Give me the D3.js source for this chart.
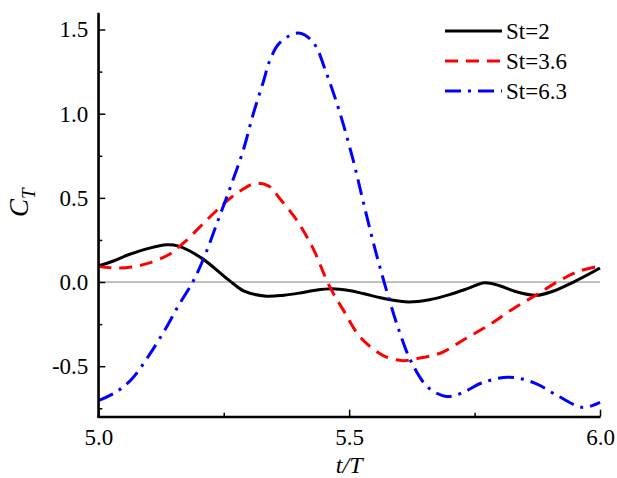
<!DOCTYPE html>
<html>
<head>
<meta charset="utf-8">
<script src="https://cdn.jsdelivr.net/npm/d3@7/dist/d3.min.js"></script>
</head>
<body style="margin:0">
<svg id="chart" width="617" height="478"></svg>
<script>
// ---- Data ----
const seriesNames = ["St=2", "St=3.6", "St=6.3"];

const tSt2 = [5.0, 5.03, 5.06, 5.1, 5.136, 5.16, 5.206, 5.259, 5.292, 5.335, 5.37, 5.40, 5.43, 5.465, 5.50, 5.53, 5.575, 5.618, 5.66, 5.70, 5.74, 5.77, 5.80, 5.83, 5.873, 5.905, 5.95, 6.0];
const vSt2 = [0.095, 0.125, 0.162, 0.2, 0.221, 0.213, 0.142, 0.014, -0.056, -0.084, -0.078, -0.066, -0.05, -0.04, -0.05, -0.07, -0.101, -0.118, -0.105, -0.075, -0.035, -0.004, -0.022, -0.055, -0.079, -0.056, 0.004, 0.083];

const tSt36 = [5.0, 5.033, 5.066, 5.1, 5.14, 5.173, 5.213, 5.259, 5.286, 5.313, 5.34, 5.362, 5.395, 5.428, 5.46, 5.489, 5.523, 5.57, 5.609, 5.635, 5.684, 5.73, 5.778, 5.824, 5.872, 5.917, 5.957, 6.0];
const vSt36 = [0.093, 0.083, 0.089, 0.112, 0.162, 0.24, 0.359, 0.488, 0.547, 0.586, 0.57, 0.495, 0.37, 0.2, -0.02, -0.17, -0.33, -0.44, -0.467, -0.455, -0.42, -0.34, -0.257, -0.164, -0.078, 0.004, 0.063, 0.095];

const tSt63 = [5.0, 5.033, 5.066, 5.1, 5.133, 5.159, 5.189, 5.213, 5.239, 5.266, 5.289, 5.309, 5.329, 5.342, 5.362, 5.399, 5.428, 5.455, 5.482, 5.508, 5.528, 5.552, 5.577, 5.601, 5.624, 5.657, 5.694, 5.724, 5.764, 5.818, 5.870, 5.917, 5.966, 6.0];
const vSt63 = [-0.705, -0.658, -0.579, -0.44, -0.283, -0.144, 0.004, 0.162, 0.369, 0.586, 0.784, 1.0, 1.19, 1.317, 1.422, 1.479, 1.425, 1.238, 1.0, 0.724, 0.478, 0.191, -0.075, -0.302, -0.475, -0.625, -0.68, -0.66, -0.6, -0.565, -0.6, -0.678, -0.745, -0.715];

const xMajorTicks = [5.0, 5.5, 6.0];
const xMinorTicks = [5.25, 5.75];
const yMajorTicks = [-0.5, 0.0, 0.5, 1.0, 1.5];
const yMinorTicks = [-0.75, -0.25, 0.25, 0.75, 1.25];

// ---- Layout ----
const svg = d3.select("#chart");
const pL = 98.3, pR = 600, pT = 12.7, pB = 416.7;
const x = d3.scaleLinear().domain([5, 6]).range([pL, pR]);
const y = d3.scaleLinear().domain([-0.8, 1.6]).range([pB, pT]);

function serif(sel, size, italic) {
  sel.attr("font-family", "Liberation Serif")
     .style("font-family", '"Liberation Serif", Tinos, "Times New Roman"', "important")
     .attr("font-size", size)
     .attr("fill", "#000");
  if (italic) sel.style("font-style", "italic", "important");
  return sel;
}

const styles = [
  { color: "#000000", dash: null },
  { color: "#ff0000", dash: "13,8" },
  { color: "#0000ff", dash: "16,7,3,7" }
];
const series = [
  tSt2.map((t, i) => [t, vSt2[i]]),
  tSt36.map((t, i) => [t, vSt36[i]]),
  tSt63.map((t, i) => [t, vSt63[i]])
];

// zero line
svg.append("line")
  .attr("x1", x(5)).attr("x2", x(6))
  .attr("y1", y(0)).attr("y2", y(0))
  .attr("stroke", "#808080").attr("stroke-width", 1);

// curves
const line = d3.line().x(d => x(d[0])).y(d => y(d[1])).curve(d3.curveCatmullRom.alpha(0.5));
series.forEach((s, i) => {
  svg.append("path")
    .datum(s)
    .attr("d", line)
    .attr("fill", "none")
    .attr("stroke", styles[i].color)
    .attr("stroke-width", 3)
    .attr("stroke-dasharray", styles[i].dash);
});

// axes
const fmt = d => d.toFixed(1);
const yAxis = svg.append("g").attr("transform", `translate(${pL},0)`)
  .call(d3.axisLeft(y).tickValues(yMajorTicks).tickSizeInner(-7).tickSizeOuter(0).tickPadding(10).tickFormat(fmt));
const yMinor = svg.append("g").attr("transform", `translate(${pL},0)`)
  .call(d3.axisLeft(y).tickValues(yMinorTicks).tickSizeInner(-4).tickSizeOuter(0).tickFormat(""));
const xAxis = svg.append("g").attr("transform", `translate(0,${pB})`)
  .call(d3.axisBottom(x).tickValues(xMajorTicks).tickSizeInner(-7).tickSizeOuter(0).tickPadding(12).tickFormat(fmt));
const xMinor = svg.append("g").attr("transform", `translate(0,${pB})`)
  .call(d3.axisBottom(x).tickValues(xMinorTicks).tickSizeInner(-4).tickSizeOuter(0).tickFormat(""));

[yAxis, yMinor, xAxis, xMinor].forEach(g => {
  g.attr("font-family", "Liberation Serif").attr("font-size", 23);
  g.selectAll(".domain").attr("stroke", "#000").attr("stroke-width", 2);
  g.selectAll(".tick line").attr("stroke", "#000").attr("stroke-width", 1.5);
  serif(g.selectAll("text"), 23, false);
});
yAxis.select(".domain").attr("d", `M0,${pT}V${pB + 1}`);
xAxis.select(".domain").attr("d", `M${pL - 1},0H${pR}`);

// axis titles
serif(svg.append("text"), 24, true)
  .attr("x", (pL + pR) / 2).attr("y", 473)
  .attr("text-anchor", "middle")
  .text("t/T");

const yt = serif(svg.append("text"), 27, true)
  .attr("transform", "translate(28,217) rotate(-90)")
  .attr("text-anchor", "start");
yt.append("tspan").text("C");
yt.append("tspan").attr("font-size", 19).attr("dy", 7).text("T");

// legend
const legY = [31, 61, 91];
seriesNames.forEach((name, i) => {
  svg.append("line")
    .attr("x1", 445).attr("x2", 502)
    .attr("y1", legY[i]).attr("y2", legY[i])
    .attr("stroke", styles[i].color).attr("stroke-width", 3)
    .attr("stroke-dasharray", styles[i].dash);
  serif(svg.append("text"), 23, false)
    .attr("x", 506).attr("y", legY[i] + 8)
    .text(name);
});
</script>
</body>
</html>
